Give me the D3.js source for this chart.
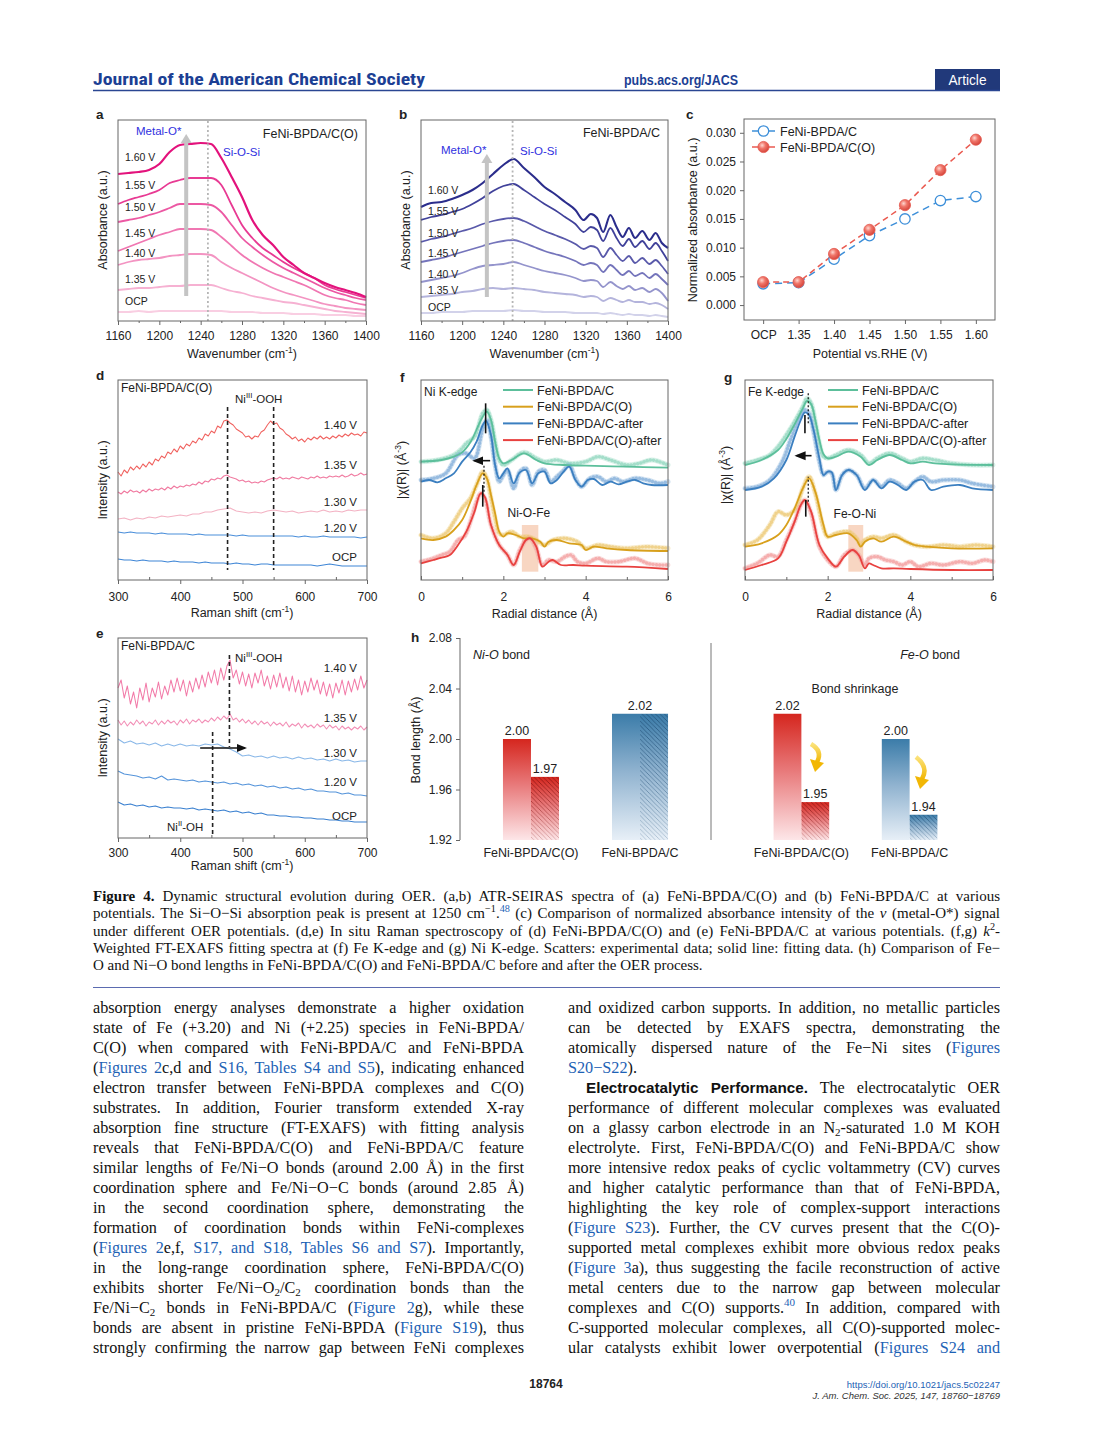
<!DOCTYPE html>
<html><head><meta charset="utf-8">
<script src="https://cdn.jsdelivr.net/npm/d3@7"></script>
<style>body{margin:0;background:#fff}svg{display:block}</style>
</head><body>
<script>
// ================= DATA =================
// (a,b) ATR-SEIRAS spectra, absorbance a.u. (stacked)
const IR_TICKS = [1160,1200,1240,1280,1320,1360,1400];
const A_X = [1160,1170,1180,1190,1200,1210,1220,1230,1240,1250,1260,1270,1280,1290,1300,1310,1320,1330,1340,1350,1360,1370,1380,1390,1400];
const A_160 = [147,148,149,151,157,169,176,177,178,177,163,144,124,101,86,76,64,56,48,43,38,34,31,28,24];
const A_155 = [117,121,124,127,131,138,141,143,143,143,136,116,96,83,73,66,59,53,48,43,36,32,29,26,23];
const A_150 = [99,101,103,106,109,113,117,117,117,116,109,96,83,74,66,59,53,48,43,38,33,29,26,23,21];
const A_145 = [70,74,78,82,86,89,92,92,92,91,84,75,66,59,53,48,44,40,36,31,26,23,21,18,16];
const A_140 = [56,59,61,62,63,65,66,67,67,66,59,53,48,43,38,33,29,26,23,20,17,15,13,12,11];
const A_135 = [31,32,33,33,34,35,35,36,36,36,33,30,28,25,23,21,19,18,16,14,12,10,9,8,7];
const A_OCP = [9,9,10,9,10,10,10,10,10,10,10,9,9,9,8,8,8,7,7,7,6,6,6,5,5];
const B_X = [1160,1170,1180,1190,1200,1210,1220,1230,1240,1250,1260,1270,1280,1290,1300,1310,1318,1325,1331,1337,1344,1350,1356,1362,1368,1375,1382,1388,1394,1400];
const B_160 = [114,118,119,122,126,131,138,147,156,162,153,144,134,127,119,111,101,107,103,89,106,94,84,93,83,90,81,88,78,73];
const B_155 = [101,104,106,109,112,117,123,130,135,137,131,124,117,111,104,97,89,94,91,80,93,83,75,82,74,80,72,78,70,60];
const B_150 = [79,82,84,87,90,93,97,100,102,103,100,95,90,86,82,77,72,75,73,64,73,66,60,65,58,63,57,61,55,47];
const B_145 = [59,61,63,66,69,72,75,78,80,81,78,74,70,67,64,60,56,58,56,49,56,51,46,50,45,48,43,47,42,36];
const B_140 = [39,41,43,45,48,52,55,56,57,59,56,53,50,48,46,43,40,41,40,34,39,35,32,35,31,33,29,32,28,20];
const B_135 = [24,25,26,27,29,30,32,33,32,33,32,31,29,28,27,26,24,25,24,20,23,21,19,21,19,19,17,18,16,12];
const B_OCP = [8,8,9,9,9,10,10,10,10,11,10,10,9,9,9,8,8,8,8,7,8,7,6,7,6,6,5,6,5,4];
const POT_LABELS = ["1.60 V","1.55 V","1.50 V","1.45 V","1.40 V","1.35 V","OCP"];

// (c) normalized absorbance
const C_CATS = ["OCP","1.35","1.40","1.45","1.50","1.55","1.60"];
const C_BLUE = [0.0037,0.0039,0.0080,0.0121,0.0150,0.0182,0.0189];
const C_RED  = [0.0040,0.0040,0.0089,0.0131,0.0174,0.0235,0.0288];
const C_YTICKS = [0,0.005,0.010,0.015,0.020,0.025,0.030];

// (d,e) Raman, intensity a.u.
const RAMAN_TICKS = [300,400,500,600,700];
const R_X5 = [300,305,310,315,320,325,330,335,340,345,350,355,360,365,370,375,380,385,390,395,400,405,410,415,420,425,430,435,440,445,450,455,460,465,470,475,480,485,490,495,500,505,510,515,520,525,530,535,540,545,550,555,560,565,570,575,580,585,590,595,600,605,610,615,620,625,630,635,640,645,650,655,660,665,670,675,680,685,690,695,700];
const R_X10 = [300,310,320,330,340,350,360,370,380,390,400,410,420,430,440,450,460,470,480,490,500,510,520,530,540,550,560,570,580,590,600,610,620,630,640,650,660,670,680,690,700];
const D_140 = [108,104,110,107,113,110,114,111,116,113,118,115,121,119,124,122,128,126,131,128,134,131,136,134,139,137,142,140,146,144,149,147,154,152,159,160,157,155,151,149,147,143,144,141,144,143,148,150,155,159,156,157,152,150,146,144,141,143,139,141,138,142,140,143,141,144,141,143,141,144,142,145,143,146,144,147,145,146,144,148,147];
const D_135 = [88,86,89,87,90,88,89,87,90,88,91,89,91,90,92,90,93,91,94,92,94,93,95,94,96,95,98,96,99,98,101,100,102,101,104,105,103,102,101,99,100,98,99,97,98,97,99,98,100,101,102,101,103,101,102,101,103,102,101,103,102,101,103,102,104,102,103,102,104,103,104,103,105,103,104,106,104,105,107,105,106];
const D_130 = [61,62,60,62,61,63,62,64,63,64,65,64,66,66,68,68,70,71,72,69,68,67,68,67,69,70,69,68,69,67,68,69,68,70,68,69,68,70,69,70,70];
const D_120 = [48,47,48,47,47,47,46,47,46,46,46,46,45,46,45,45,45,45,45,44,45,44,44,44,44,44,44,44,44,43,44,43,43,44,43,43,43,43,43,42,43];
const D_OCP = [21,20,20,19,20,19,19,19,18,19,18,18,18,17,18,17,17,17,16,17,16,16,15,16,16,15,15,15,15,15,15,15,14,15,16,15,14,14,14,14,14];
const E_140 = [150,158,140,152,134,146,130,150,138,155,136,150,141,156,139,152,143,158,146,160,147,158,142,157,146,160,149,163,151,166,155,168,153,170,158,172,178,160,168,154,166,152,164,150,165,155,168,152,162,149,163,151,165,150,161,147,162,146,158,143,157,146,160,148,158,144,156,142,154,140,155,145,158,143,157,146,159,148,162,150,158];
const E_135 = [118,113,117,112,116,113,118,114,117,112,116,114,118,113,117,114,118,115,117,113,118,115,119,114,118,116,119,115,118,116,120,117,121,118,122,119,124,118,120,116,119,115,118,114,117,113,117,114,116,112,116,113,115,112,116,111,114,112,115,110,114,111,113,110,114,111,113,109,113,110,112,108,112,109,111,108,111,109,112,108,111];
const E_130 = [99,95,97,94,95,93,95,92,94,92,94,92,93,92,94,93,94,91,89,86,82,83,81,82,80,82,80,81,79,81,79,80,78,79,77,79,77,78,76,77,77];
const E_120 = [67,64,63,62,60,61,59,62,58,59,58,57,58,56,57,56,55,56,54,55,53,54,52,53,51,52,50,51,49,50,48,49,47,47,46,46,44,45,43,43,42];
const E_OCP = [36,33,34,32,33,31,32,30,31,30,30,29,30,28,29,28,27,28,26,27,25,26,24,25,23,23,22,22,21,21,20,20,19,19,18,18,17,17,16,16,16];
const RAMAN_LABELS = ["1.40 V","1.35 V","1.30 V","1.20 V","OCP"];

// (f,g) FT-EXAFS |chi(R)| a.u. (stacked), [R, value]
const EX_TICKS = [0,2,4,6];
const EX_NAMES = ["FeNi-BPDA/C","FeNi-BPDA/C(O)","FeNi-BPDA/C-after","FeNi-BPDA/C(O)-after"];
const F_TEAL_FIT = [[0,355],[0.5,360],[0.8,370],[1.0,383],[1.2,413],[1.4,465],[1.5,490],[1.6,505],[1.7,480],[1.8,415],[1.9,365],[2.0,350],[2.2,360],[2.5,380],[2.8,360],[3.0,350],[3.5,345],[4.0,343],[5.0,340],[6.0,337]];
const F_TEAL_EXP = [[0,355],[0.4,360],[0.8,375],[1.0,395],[1.1,410],[1.3,430],[1.5,500],[1.6,510],[1.7,480],[1.8,415],[1.9,360],[2.0,345],[2.2,360],[2.5,383],[2.8,365],[3.0,355],[3.3,360],[3.6,350],[4.0,355],[4.3,370],[4.6,360],[5.0,345],[5.3,350],[5.6,360],[6.0,345]];
const F_BLUE_FIT = [[0,295],[0.2,300],[0.4,293],[0.6,305],[0.8,320],[1.0,355],[1.2,383],[1.35,415],[1.5,465],[1.58,477],[1.7,435],[1.8,345],[1.9,305],[2.0,320],[2.1,335],[2.25,290],[2.4,323],[2.55,330],[2.7,290],[2.85,320],[3.0,325],[3.15,290],[3.3,300],[3.45,323],[3.6,340],[3.75,300],[3.9,280],[4.05,300],[4.2,303],[4.4,285],[4.6,295],[4.8,287],[5.0,295],[5.2,300],[5.4,290],[5.6,285],[6.0,285]];
const F_BLUE_EXP = [[0,300],[0.3,305],[0.6,320],[0.9,375],[1.1,380],[1.3,365],[1.5,455],[1.6,480],[1.7,430],[1.8,345],[1.9,295],[2.0,315],[2.1,330],[2.25,275],[2.4,325],[2.55,335],[2.7,285],[2.85,325],[3.0,330],[3.15,295],[3.3,310],[3.45,327],[3.6,345],[3.75,305],[3.9,280],[4.1,305],[4.3,310],[4.5,295],[4.7,305],[4.9,295],[5.2,305],[5.5,300],[5.8,290],[6.0,295]];
const F_GOLD_FIT = [[0,125],[0.3,120],[0.6,130],[0.8,150],[1.0,180],[1.2,235],[1.35,285],[1.5,320],[1.6,305],[1.7,255],[1.8,200],[1.9,145],[2.0,130],[2.1,140],[2.3,135],[2.5,125],[2.7,125],[2.9,115],[3.0,100],[3.1,115],[3.3,120],[3.6,110],[3.9,105],[4.0,90],[4.2,100],[4.5,95],[5.0,90],[6.0,87]];
const F_GOLD_EXP = [[0,135],[0.3,125],[0.6,140],[0.8,175],[1.0,215],[1.2,245],[1.35,285],[1.5,325],[1.6,305],[1.7,245],[1.8,185],[1.9,140],[2.0,135],[2.2,145],[2.4,130],[2.6,130],[2.8,120],[3.0,105],[3.2,120],[3.5,125],[3.8,115],[4.0,95],[4.3,105],[4.6,100],[5.0,95],[5.5,100],[6.0,95]];
const F_RED_FIT = [[0,50],[0.3,60],[0.5,67],[0.7,75],[0.9,105],[1.1,145],[1.3,205],[1.45,260],[1.55,250],[1.7,165],[1.9,105],[2.1,75],[2.25,45],[2.4,85],[2.55,120],[2.65,125],[2.8,100],[2.95,40],[3.1,55],[3.2,60],[3.4,45],[3.7,45],[4.0,43],[5.0,40],[6.0,33]];
const F_RED_EXP = [[0,55],[0.3,65],[0.5,75],[0.7,85],[0.9,120],[1.05,130],[1.2,175],[1.35,235],[1.45,260],[1.55,245],[1.7,165],[1.9,105],[2.1,75],[2.25,45],[2.4,90],[2.55,120],[2.65,125],[2.8,95],[2.95,45],[3.1,60],[3.3,55],[3.5,70],[3.65,75],[3.8,55],[4.0,50],[4.3,65],[4.5,55],[4.8,55],[5.2,65],[5.5,50],[5.8,45],[6.0,45]];
const G_TEAL_FIT = [[0,345],[0.4,360],[0.8,390],[1.0,423],[1.2,467],[1.4,515],[1.5,537],[1.6,527],[1.7,480],[1.8,420],[1.9,377],[2.0,365],[2.2,370],[2.5,385],[2.8,370],[3.0,345],[3.2,360],[3.5,375],[3.8,360],[4.0,350],[4.3,355],[4.6,350],[5.0,347],[6.0,345]];
const G_TEAL_EXP = [[0,350],[0.3,360],[0.6,375],[0.8,400],[1.0,435],[1.2,475],[1.4,520],[1.5,545],[1.6,530],[1.7,475],[1.8,410],[1.9,370],[2.0,365],[2.2,375],[2.5,390],[2.8,375],[3.0,350],[3.2,365],[3.5,380],[3.8,365],[4.0,355],[4.3,365],[4.6,360],[5.0,350],[5.5,345],[6.0,345]];
const G_BLUE_FIT = [[0,270],[0.4,280],[0.7,305],[1.0,360],[1.2,430],[1.35,480],[1.45,503],[1.55,495],[1.65,455],[1.8,365],[1.9,315],[2.0,325],[2.1,323],[2.2,270],[2.35,315],[2.5,330],[2.7,315],[2.9,270],[3.1,300],[3.3,275],[3.5,295],[3.7,285],[3.9,270],[4.1,295],[4.3,300],[4.5,270],[4.8,280],[5.2,285],[5.5,275],[6.0,270]];
const G_BLUE_EXP = [[0,275],[0.3,280],[0.6,300],[0.9,355],[1.1,420],[1.3,480],[1.45,510],[1.55,500],[1.65,450],[1.8,355],[1.9,315],[2.0,325],[2.1,320],[2.2,270],[2.35,315],[2.5,330],[2.7,315],[2.9,275],[3.1,300],[3.3,280],[3.5,300],[3.7,290],[3.9,275],[4.1,295],[4.3,310],[4.5,295],[4.8,300],[5.2,300],[5.5,290],[6.0,280]];
const G_GOLD_FIT = [[0,100],[0.4,110],[0.8,135],[1.0,165],[1.2,215],[1.4,275],[1.55,305],[1.7,265],[1.9,165],[2.0,130],[2.2,135],[2.5,140],[2.7,120],[2.8,100],[2.9,115],[3.1,125],[3.3,115],[3.6,130],[3.9,115],[4.1,105],[4.4,100],[5.0,95],[6.0,95]];
const G_GOLD_EXP = [[0,105],[0.3,120],[0.6,165],[0.8,205],[1.0,195],[1.2,210],[1.4,275],[1.55,310],[1.7,260],[1.9,155],[2.0,130],[2.2,140],[2.5,145],[2.7,125],[2.8,105],[2.9,120],[3.1,130],[3.3,125],[3.6,135],[3.9,115],[4.1,105],[4.4,100],[4.8,105],[5.2,100],[5.6,105],[6.0,100]];
const G_RED_FIT = [[0,30],[0.4,45],[0.8,65],[1.0,115],[1.2,175],[1.35,225],[1.45,240],[1.6,205],[1.8,105],[2.0,65],[2.2,40],[2.4,70],[2.6,90],[2.75,75],[2.9,35],[3.0,50],[3.1,45],[3.3,35],[3.6,35],[4.0,33],[5.0,30],[6.0,30]];
const G_RED_EXP = [[0,35],[0.3,50],[0.6,75],[0.8,70],[1.0,120],[1.2,175],[1.35,225],[1.45,240],[1.6,200],[1.8,100],[2.0,60],[2.2,40],[2.4,75],[2.6,90],[2.75,75],[2.9,45],[3.0,65],[3.2,70],[3.4,60],[3.6,55],[3.8,45],[4.0,55],[4.2,40],[4.5,50],[4.8,45],[5.2,55],[5.5,50],[5.8,60],[6.0,55]];

// (h) bond lengths
const H_SAMPLES = ["FeNi-BPDA/C(O)","FeNi-BPDA/C"];
const H_NIO_BEFORE = [2.00,2.02];
const H_NIO_AFTER  = [1.97,2.02];
const H_FEO_BEFORE = [2.02,2.00];
const H_FEO_AFTER  = [1.95,1.94];
const H_YTICKS = [1.92,1.96,2.00,2.04,2.08];

// ================= RENDER =================
const W=1094,H=1442;
const SANS='"Liberation Sans", Arial, Helvetica, sans-serif';
const SERIF='"Liberation Serif", "Times New Roman", serif';
const TXT='#222', LINK='#1d62b5', FRAME='#666';
const svg=d3.select('body').append('svg').attr('width',W).attr('height',H).attr('font-family',SANS);
svg.append('rect').attr('width',W).attr('height',H).attr('fill','#fff');
const defs=svg.append('defs');

function addRich(t,str,fs){
  const re=/(\*\*[^*]+\*\*|\[[^\]]+\]|\^\{[^}]*\}|_\{[^}]*\}|%\{[^}]*\}|~\{[^}]*\}|@\{[^}]*\})/;
  str.split(re).forEach(p=>{
    if(!p) return;
    const ts=t.append('tspan');
    if(p.startsWith('**')) ts.text(p.slice(2,-2)).attr('font-weight','bold');
    else if(p.startsWith('[')) ts.text(p.slice(1,-1)).attr('fill',LINK);
    else if(p.startsWith('^{')) ts.text(p.slice(2,-1)).attr('font-size',fs*0.68).attr('baseline-shift',(fs*0.4)+'px');
    else if(p.startsWith('_{')) ts.text(p.slice(2,-1)).attr('font-size',fs*0.68).attr('baseline-shift',(-fs*0.2)+'px');
    else if(p.startsWith('%{')) ts.text(p.slice(2,-1)).attr('font-style','italic');
    else if(p.startsWith('~{')) ts.text(p.slice(2,-1)).attr('font-size',fs*0.68).attr('baseline-shift',(fs*0.42)+'px').attr('fill',LINK);
    else if(p.startsWith('@{')) ts.text(p.slice(2,-1)).attr('font-weight','bold').attr('font-family',SANS).attr('font-size',fs*0.94);
    else ts.text(p);
  });
}
function txt(g,x,y,s,o={}){
  const fs=o.fs||12;
  const t=g.append('text').attr('x',x).attr('y',y).attr('font-size',fs).attr('fill',o.c||TXT)
    .attr('text-anchor',o.a||'start').attr('font-family',o.ff||SANS);
  if(o.w) t.attr('font-weight',o.w);
  if(o.st) t.attr('font-style',o.st);
  if(o.rot) t.attr('transform',`rotate(-90,${x},${y})`);
  addRich(t,s,fs);
  return t;
}
function frame(g,x0,y0,x1,y1){
  g.append('rect').attr('x',x0).attr('y',y0).attr('width',x1-x0).attr('height',y1-y0)
   .attr('fill','none').attr('stroke',FRAME).attr('stroke-width',1);
}
function styleAxis(axg,fs){
  axg.attr('font-family',SANS).attr('font-size',fs||12);
  axg.select('.domain').remove();
  axg.selectAll('line').attr('stroke',FRAME);
  axg.selectAll('text').attr('fill',TXT);
}
defs.append('marker').attr('id','arrK').attr('viewBox','0 0 10 10').attr('refX',8).attr('refY',5)
  .attr('markerWidth',7).attr('markerHeight',7).attr('orient','auto-start-reverse')
  .append('path').attr('d','M0,1 L10,5 L0,9 Z').attr('fill','#111');

// ---------- Header ----------
txt(svg,93,85,'Journal of the American Chemical Society',{fs:17,c:'#1c3f94',w:'bold',ff:'"Liberation Sans Narrow","Roboto Condensed","Liberation Sans",sans-serif'})
  .attr('textLength',332).attr('lengthAdjust','spacingAndGlyphs');
txt(svg,624,85,'pubs.acs.org/JACS',{fs:14,c:'#1c3f94',w:'bold',ff:'"Liberation Sans Narrow","Liberation Sans",sans-serif'})
  .attr('textLength',114).attr('lengthAdjust','spacingAndGlyphs');
svg.append('rect').attr('x',935).attr('y',69).attr('width',65).attr('height',21).attr('fill','#21397a');
txt(svg,967.5,84.5,'Article',{fs:14,c:'#fff',a:'middle',ff:'"Liberation Sans Narrow","Liberation Sans",sans-serif'})
  .attr('textLength',38).attr('lengthAdjust','spacingAndGlyphs');
svg.append('line').attr('x1',93).attr('x2',1000).attr('y1',90.5).attr('y2',90.5).attr('stroke','#2a4692').attr('stroke-width',1.5);

// ---------- (a),(b) IR panels ----------
function irPanel(cfg){
  const g=svg.append('g');
  const x=d3.scaleLinear().domain([1160,1400]).range([cfg.x0,cfg.x1]);
  const y=d3.scaleLinear().domain([0,201]).range([321,120]);
  const line=d3.line().x((d,i)=>x(cfg.xs[i])).y(d=>y(d)).curve(d3.curveMonotoneX);
  cfg.series.slice().reverse().forEach(s=>{
    g.append('path').attr('d',line(s.v)).attr('fill','none').attr('stroke',s.c).attr('stroke-width',s.w).attr('stroke-linejoin','round');
  });
  g.append('line').attr('x1',x(cfg.dot)).attr('x2',x(cfg.dot)).attr('y1',y(200)).attr('y2',y(0))
    .attr('stroke','#b5b5b5').attr('stroke-width',1.8).attr('stroke-dasharray','2,2.5');
  const ax=x(cfg.arrow[0]);
  g.append('line').attr('x1',ax).attr('x2',ax).attr('y1',y(cfg.arrow[1])).attr('y2',y(cfg.arrow[2])+8)
    .attr('stroke','#c4c4c4').attr('stroke-width',4);
  g.append('path').attr('d',`M${ax-5.5},${y(cfg.arrow[2])+9} L${ax},${y(cfg.arrow[2])} L${ax+5.5},${y(cfg.arrow[2])+9} Z`).attr('fill','#c4c4c4');
  frame(g,cfg.x0,120,cfg.x1,321);
  const axg=g.append('g').attr('transform','translate(0,321)')
    .call(d3.axisBottom(x).tickValues(IR_TICKS).tickSize(4).tickPadding(6).tickFormat(d3.format('d')));
  styleAxis(axg,12);
  g.append('g').attr('transform','translate(0,321)')
    .call(d3.axisBottom(x).tickValues([1180,1220,1260,1300,1340,1380]).tickSize(2).tickFormat(''))
    .call(a=>{a.select('.domain').remove();a.selectAll('line').attr('stroke',FRAME);});
  cfg.series.forEach((s,i)=>txt(g,cfg.x0+7,cfg.labY[i],POT_LABELS[i],{fs:10.5}));
  txt(g,(cfg.x0+cfg.x1)/2,358,'Wavenumber (cm^{-1})',{fs:12.5,a:'middle'});
  txt(g,cfg.x0-11,220,'Absorbance (a.u.)',{fs:12.5,a:'middle',rot:true});
  txt(g,cfg.x0-22,119,cfg.letter,{fs:13.5,w:'bold'});
  txt(g,cfg.mx,cfg.my,'Metal-O*',{fs:11.5,c:'#2f2fe0'});
  txt(g,cfg.sx,cfg.sy,'Si-O-Si',{fs:11.5,c:'#2f2fe0'});
  txt(g,cfg.x1-8,cfg.ty,cfg.title,{fs:12.5,a:'end'});
}
irPanel({x0:118,x1:366,xs:A_X,dot:1247,arrow:[1226,25,187],letter:'a',title:'FeNi-BPDA/C(O)',ty:138,
  mx:136,my:135,sx:223,sy:156,labY:[161,189,211,237,257,283,305],
  series:[{v:A_160,c:'#e3127c',w:2.2},{v:A_155,c:'#e83a93',w:1.8},{v:A_150,c:'#ec58a3',w:1.8},{v:A_145,c:'#f077b2',w:1.8},{v:A_140,c:'#f394c2',w:1.8},{v:A_135,c:'#f6b1d2',w:1.8},{v:A_OCP,c:'#f9cee2',w:1.8}]});
irPanel({x0:421,x1:668,xs:B_X,dot:1249,arrow:[1224,24,167],letter:'b',title:'FeNi-BPDA/C',ty:137,
  mx:441,my:154,sx:520,sy:155,labY:[194,215,237,257,278,294,311],
  series:[{v:B_160,c:'#2b2d8c',w:2.1},{v:B_155,c:'#40419a',w:1.8},{v:B_150,c:'#5959aa',w:1.8},{v:B_145,c:'#7474bb',w:1.8},{v:B_140,c:'#9494cc',w:1.8},{v:B_135,c:'#b4b4dc',w:1.8},{v:B_OCP,c:'#d2d2ea',w:1.8}]});

// ---------- (c) ----------
(function(){
  const g=svg.append('g');
  const x0=744,x1=995,y0=119,y1=320;
  const x=d3.scalePoint().domain(C_CATS).range([x0,x1]).padding(0.54);
  const y=d3.scaleLinear().domain([-0.0026,0.0324]).range([y1,y0]);
  const rg=defs.append('radialGradient').attr('id','redBall').attr('cx','38%').attr('cy','35%').attr('r','65%');
  rg.append('stop').attr('offset','0%').attr('stop-color','#ffd6cf');
  rg.append('stop').attr('offset','45%').attr('stop-color','#f0766a');
  rg.append('stop').attr('offset','100%').attr('stop-color','#d6463c');
  const line=d3.line().x((d,i)=>x(C_CATS[i])).y(d=>y(d));
  g.append('path').attr('d',line(C_BLUE)).attr('fill','none').attr('stroke','#3d8fd9').attr('stroke-width',1.5).attr('stroke-dasharray','7,5');
  g.append('path').attr('d',line(C_RED)).attr('fill','none').attr('stroke','#ea5a50').attr('stroke-width',1.5).attr('stroke-dasharray','6,4');
  g.selectAll('.cb').data(C_BLUE).join('circle').attr('cx',(d,i)=>x(C_CATS[i])).attr('cy',d=>y(d)).attr('r',5.2)
    .attr('fill','#fff').attr('stroke','#3d8fd9').attr('stroke-width',1.3);
  g.selectAll('.cr').data(C_RED).join('circle').attr('cx',(d,i)=>x(C_CATS[i])).attr('cy',d=>y(d)).attr('r',5.6)
    .attr('fill','url(#redBall)').attr('stroke','#e55b50').attr('stroke-width',0.8);
  frame(g,x0,y0,x1,y1);
  const ya=g.append('g').attr('transform',`translate(${x0},0)`).call(d3.axisLeft(y).tickValues(C_YTICKS).tickSize(4).tickPadding(4).tickFormat(d3.format('.3f')));
  styleAxis(ya,12);
  const xa=g.append('g').attr('transform',`translate(0,${y1})`).call(d3.axisBottom(x).tickSize(4).tickPadding(6));
  styleAxis(xa,12);
  [[131,'FeNi-BPDA/C',0],[147,'FeNi-BPDA/C(O)',1]].forEach(([ly,lab,k])=>{
    g.append('line').attr('x1',752).attr('x2',775).attr('y1',ly).attr('y2',ly).attr('stroke',k?'#ea5a50':'#3d8fd9').attr('stroke-width',1.5);
    g.append('circle').attr('cx',763.5).attr('cy',ly).attr('r',k?5.6:5.2).attr('fill',k?'url(#redBall)':'#fff').attr('stroke',k?'#e55b50':'#3d8fd9').attr('stroke-width',k?0.8:1.3);
    txt(g,780,ly+4.5,lab,{fs:12.5});
  });
  txt(g,870,358,'Potential vs.RHE (V)',{fs:12.5,a:'middle'});
  txt(g,697,220,'Normalized absorbance (a.u.)',{fs:12.5,a:'middle',rot:true});
  txt(g,686,119,'c',{fs:13.5,w:'bold'});
})();

// ---------- (d),(e) Raman ----------
function ramanPanel(cfg){
  const g=svg.append('g');
  const x=d3.scaleLinear().domain([300,700]).range([118,367]);
  const y=d3.scaleLinear().domain([0,200]).range([cfg.yb,cfg.yb-200]);
  cfg.series.forEach(s=>{
    const line=d3.line().x((d,i)=>x(s.xs[i])).y(d=>y(d));
    g.append('path').attr('d',line(s.v)).attr('fill','none').attr('stroke',s.c).attr('stroke-width',1.05).attr('stroke-linejoin','round');
  });
  cfg.dashes.forEach(d=>g.append('line').attr('x1',x(d[0])).attr('x2',x(d[0])).attr('y1',y(d[1])).attr('y2',y(d[2]))
    .attr('stroke','#222').attr('stroke-width',1.6).attr('stroke-dasharray','4,3'));
  frame(g,118,cfg.yb-200,367,cfg.yb);
  const axg=g.append('g').attr('transform',`translate(0,${cfg.yb})`).call(d3.axisBottom(x).tickValues(RAMAN_TICKS).tickSize(4).tickPadding(cfg.pad));
  styleAxis(axg,12);
  g.append('g').attr('transform',`translate(0,${cfg.yb})`).call(d3.axisBottom(x).tickValues([350,450,550,650]).tickSize(-3).tickFormat(''))
    .call(a=>{a.select('.domain').remove();a.selectAll('line').attr('stroke',FRAME);});
  RAMAN_LABELS.forEach((l,i)=>txt(g,357,cfg.labY[i],l,{fs:11.5,a:'end'}));
  txt(g,121,cfg.yb-188,cfg.title,{fs:12});
  txt(g,235,cfg.nly,'Ni^{III}-OOH',{fs:11.5});
  txt(g,242,cfg.yb+cfg.tt,'Raman shift (cm^{-1})',{fs:12.5,a:'middle'});
  txt(g,107,cfg.yb-100,'Intensity (a.u.)',{fs:12.5,a:'middle',rot:true});
  txt(g,96,cfg.yb-200,cfg.letter,{fs:13.5,w:'bold'});
  return {g,x,y};
}
ramanPanel({yb:580,pad:8,tt:37,letter:'d',title:'FeNi-BPDA/C(O)',nly:403,labY:[429,469,506,532,561],
  dashes:[[476,173,10],[550,173,10]],
  series:[{xs:R_X10,v:D_OCP,c:'#3f86d6'},{xs:R_X10,v:D_120,c:'#4b8fda'},{xs:R_X10,v:D_130,c:'#f3b2c3'},{xs:R_X5,v:D_135,c:'#f07aa0'},{xs:R_X5,v:D_140,c:'#f0625f'}]});
const pe=ramanPanel({yb:838,pad:6,tt:32,letter:'e',title:'FeNi-BPDA/C',nly:662,labY:[672,722,757,786,820],
  dashes:[[479,183,91],[452,106,3]],
  series:[{xs:R_X10,v:E_OCP,c:'#3a80d0'},{xs:R_X10,v:E_120,c:'#5594da'},{xs:R_X10,v:E_130,c:'#8ab8e8'},{xs:R_X5,v:E_135,c:'#f28fb6'},{xs:R_X5,v:E_140,c:'#f27aa8'}]});
pe.g.append('line').attr('x1',pe.x(432)).attr('x2',pe.x(504)).attr('y1',pe.y(90)).attr('y2',pe.y(90)).attr('stroke','#111').attr('stroke-width',1.5).attr('marker-end','url(#arrK)');
txt(pe.g,167,831,'Ni^{II}-OH',{fs:11.5});

// ---------- (f),(g) EXAFS ----------
function exafsPanel(cfg){
  const g=svg.append('g');
  const x=d3.scaleLinear().domain([0,6]).range([cfg.x0,cfg.x1]);
  const y=d3.scaleLinear().domain([0,600]).range([580,380]);
  g.append('rect').attr('x',x(cfg.box[0])).attr('width',x(cfg.box[1])-x(cfg.box[0])).attr('y',y(165)).attr('height',y(25)-y(165))
    .attr('fill','#f5c5a8').attr('opacity',0.7);
  const line=d3.line().x(d=>x(d[0])).y(d=>y(d[1])).curve(d3.curveCatmullRom.alpha(0.5));
  cfg.series.forEach(s=>{
    g.append('path').attr('d',line(s.exp)).attr('fill','none').attr('stroke',s.sc).attr('stroke-width',5).attr('stroke-opacity',0.35).attr('stroke-linecap','round');
    g.append('path').attr('d',line(s.exp)).attr('fill','none').attr('stroke',s.sc).attr('stroke-width',3.4).attr('stroke-opacity',0.7)
      .attr('stroke-dasharray','0.1,3.2').attr('stroke-linecap','round');
  });
  cfg.series.forEach(s=>g.append('path').attr('d',line(s.fit)).attr('fill','none').attr('stroke',s.c).attr('stroke-width',1.8));
  cfg.marks.forEach(m=>{
    g.append('line').attr('x1',x(m[0])).attr('x2',x(m[0])).attr('y1',y(m[1])).attr('y2',y(m[2]))
      .attr('stroke','#111').attr('stroke-width',m[3]?1.2:1.6).attr('stroke-dasharray',m[3]?'2,2':null);
  });
  g.append('line').attr('x1',x(cfg.arr[0])).attr('x2',x(cfg.arr[1])).attr('y1',y(cfg.arr[2])).attr('y2',y(cfg.arr[2]))
    .attr('stroke','#111').attr('stroke-width',1.6).attr('marker-end','url(#arrK)');
  frame(g,cfg.x0,380,cfg.x1,580);
  const axg=g.append('g').attr('transform','translate(0,580)').call(d3.axisBottom(x).tickValues(EX_TICKS).tickSize(-4).tickPadding(12).tickFormat(d3.format('d')));
  styleAxis(axg,12);
  g.append('g').attr('transform','translate(0,580)').call(d3.axisBottom(x).tickValues([1,3,5]).tickSize(-3).tickFormat(''))
    .call(a=>{a.select('.domain').remove();a.selectAll('line').attr('stroke',FRAME);});
  cfg.series.forEach((s,i)=>{
    const ly=390+i*16.7;
    g.append('line').attr('x1',cfg.lx).attr('x2',cfg.lx+30).attr('y1',ly).attr('y2',ly).attr('stroke',s.c).attr('stroke-width',2);
    txt(g,cfg.lx+34,ly+4.5,EX_NAMES[i],{fs:12.5});
  });
  txt(g,cfg.x0+3,396,cfg.edge,{fs:12});
  txt(g,x(cfg.lab[0]),y(cfg.lab[1]),cfg.labText,{fs:12,a:'middle'});
  txt(g,(cfg.x0+cfg.x1)/2,618,'Radial distance (Å)',{fs:12.5,a:'middle'});
  txt(g,cfg.x0-15,cfg.ytc,'|χ(R)| (Å^{-3})',{fs:12.5,a:'middle',rot:true});
  txt(g,cfg.x0-21,382,cfg.letter,{fs:13.5,w:'bold'});
}
const EXCOL=[{c:'#5cbf9b',sc:'#8fd6bd'},{c:'#d8a01c',sc:'#ecc870'},{c:'#3b7fc0',sc:'#7fadd8'},{c:'#e8413f',sc:'#f29a9a'}];
exafsPanel({x0:421,x1:668,letter:'f',edge:'Ni K-edge',box:[2.45,2.85],lab:[2.62,190],labText:'Ni-O-Fe',lx:503,ytc:470,
  marks:[[1.57,440,530,0],[1.53,265,345,1],[1.50,220,285,0]],arr:[1.68,1.3,358],
  series:[{fit:F_TEAL_FIT,exp:F_TEAL_EXP,...EXCOL[0]},{fit:F_GOLD_FIT,exp:F_GOLD_EXP,...EXCOL[1]},{fit:F_BLUE_FIT,exp:F_BLUE_EXP,...EXCOL[2]},{fit:F_RED_FIT,exp:F_RED_EXP,...EXCOL[3]}]});
exafsPanel({x0:745,x1:993,letter:'g',edge:'Fe K-edge',box:[2.5,2.86],lab:[2.66,185],labText:'Fe-O-Ni',lx:828,ytc:475,
  marks:[[1.45,440,495,0],[1.53,470,560,1],[1.53,235,310,1],[1.47,190,240,0]],arr:[1.61,1.25,373],
  series:[{fit:G_TEAL_FIT,exp:G_TEAL_EXP,...EXCOL[0]},{fit:G_GOLD_FIT,exp:G_GOLD_EXP,...EXCOL[1]},{fit:G_BLUE_FIT,exp:G_BLUE_EXP,...EXCOL[2]},{fit:G_RED_FIT,exp:G_RED_EXP,...EXCOL[3]}]});

// ---------- (h) bond lengths ----------
(function(){
  const g=svg.append('g');
  const y=d3.scaleLinear().domain([1.92,2.08]).range([840,638]);
  const xL=d3.scaleBand().domain(H_SAMPLES).range([460,711]).paddingInner(0.486).paddingOuter(0.394);
  const xR=d3.scaleBand().domain(H_SAMPLES).range([711,1000]).paddingInner(0.486).paddingOuter(0.578);
  function grad(id,top,mid,bot){
    const lg=defs.append('linearGradient').attr('id',id).attr('x1',0).attr('x2',0).attr('y1',0).attr('y2',1);
    lg.append('stop').attr('offset','0%').attr('stop-color',top);
    lg.append('stop').attr('offset','45%').attr('stop-color',mid);
    lg.append('stop').attr('offset','100%').attr('stop-color',bot);
  }
  grad('gRed','#d5261e','#e8797a','#fde6e8');
  grad('gBlue','#3b7ca9','#8fb2cf','#e7eff7');
  function hatch(id,col){
    const p=defs.append('pattern').attr('id',id).attr('patternUnits','userSpaceOnUse').attr('width',4.5).attr('height',4.5);
    p.append('path').attr('d','M-1,-1 L5.5,5.5 M-1,3.5 L1,5.5 M3.5,-1 L5.5,1').attr('stroke',col).attr('stroke-width',0.9);
  }
  hatch('hRed','#7d1010'); hatch('hBlue','#1d4a72');
  const fg=defs.append('linearGradient').attr('id','fadeG').attr('x1',0).attr('x2',0).attr('y1',0).attr('y2',1);
  fg.append('stop').attr('offset','0%').attr('stop-color','#fff');
  fg.append('stop').attr('offset','100%').attr('stop-color','#555');
  defs.append('mask').attr('id','fadeM').attr('maskContentUnits','objectBoundingBox')
    .append('rect').attr('width',1).attr('height',1).attr('fill','url(#fadeG)');
  const groups=[{sc:xL,before:H_NIO_BEFORE,after:H_NIO_AFTER},{sc:xR,before:H_FEO_BEFORE,after:H_FEO_AFTER}];
  groups.forEach(G=>{
    H_SAMPLES.forEach((s,i)=>{
      const bx=G.sc(s), bw=G.sc.bandwidth()/2;
      const gid=i===0?'url(#gRed)':'url(#gBlue)', hid=i===0?'url(#hRed)':'url(#hBlue)';
      const b=G.before[i], a=G.after[i];
      g.append('rect').attr('x',bx).attr('width',bw).attr('y',y(b)).attr('height',y(1.92)-y(b)).attr('fill',gid);
      g.append('rect').attr('x',bx+bw).attr('width',bw).attr('y',y(a)).attr('height',y(1.92)-y(a)).attr('fill',gid);
      g.append('rect').attr('x',bx+bw).attr('width',bw).attr('y',y(a)).attr('height',y(1.92)-y(a)).attr('fill',hid).attr('opacity',0.75).attr('mask','url(#fadeM)');
      if(a===b){
        txt(g,bx+bw,y(b)-4,b.toFixed(2),{fs:12.5,a:'middle'});
      } else {
        txt(g,bx+bw/2,y(b)-4,b.toFixed(2),{fs:12.5,a:'middle'});
        txt(g,bx+bw*1.5,y(a)-4,a.toFixed(2),{fs:12.5,a:'middle'});
      }
      txt(g,bx+bw,857,s,{fs:12.5,a:'middle'});
    });
  });
  const ya=g.append('g').attr('transform','translate(460,0)').call(d3.axisLeft(y).tickValues(H_YTICKS).tickSize(4).tickPadding(4).tickFormat(d3.format('.2f')));
  styleAxis(ya,12);
  g.append('line').attr('x1',460).attr('x2',460).attr('y1',638).attr('y2',840).attr('stroke',FRAME);
  g.append('line').attr('x1',711).attr('x2',711).attr('y1',643).attr('y2',840).attr('stroke','#777');
  txt(g,473,659,'%{Ni-O} bond',{fs:12.5});
  txt(g,960,659,'%{Fe-O} bond',{fs:12.5,a:'end'});
  txt(g,855,693,'Bond shrinkage',{fs:12.5,a:'middle'});
  txt(g,420,740,'Bond length (Å)',{fs:12.5,a:'middle',rot:true});
  txt(g,411,642,'h',{fs:13.5,w:'bold'});
  const yg=defs.append('linearGradient').attr('id','yel').attr('x1',0).attr('x2',0).attr('y1',0).attr('y2',1);
  yg.append('stop').attr('offset','0%').attr('stop-color','#fbe27a');
  yg.append('stop').attr('offset','100%').attr('stop-color','#f2b705');
  [[811,744,823,751,817,762],[916,757,929,767,922,779]].forEach(p=>{
    g.append('path').attr('d',`M${p[0]},${p[1]} Q${p[2]},${p[3]} ${p[4]},${p[5]}`).attr('fill','none').attr('stroke','url(#yel)').attr('stroke-width',4.5);
    g.append('path').attr('d',`M${p[4]-7},${p[5]-3} L${p[4]+7},${p[5]+1} L${p[4]-2},${p[5]+10} Z`).attr('fill','#f2b705');
  });
})();

// ---------- Caption & body text ----------
function richLine(x,y,width,str,o){
  const t=svg.append('text').attr('x',x).attr('y',y).attr('font-family',o.ff||SERIF).attr('font-size',o.fs).attr('fill','#111');
  addRich(t,str,o.fs);
  if(o.justify){
    const L=t.node().getComputedTextLength();
    const n=(t.text().match(/ /g)||[]).length;
    if(L>width){
      t.attr('textLength',width).attr('lengthAdjust','spacingAndGlyphs');
    } else if(n>0){
      const ws=(width-L)/n;
      t.attr('word-spacing',ws).style('word-spacing',ws+'px');
      const bw=t.node().getBBox().width;
      if(Math.abs(bw-width)>4){ t.attr('word-spacing',null).style('word-spacing',null).attr('textLength',width).attr('lengthAdjust','spacing'); }
    }
  }
  return t;
}
const CAPTION = [
 "**Figure 4.** Dynamic structural evolution during OER. (a,b) ATR-SEIRAS spectra of (a) FeNi-BPDA/C(O) and (b) FeNi-BPDA/C at various",
 "potentials. The Si−O−Si absorption peak is present at 1250 cm^{−1}.~{48} (c) Comparison of normalized absorbance intensity of the %{ν} (metal-O*) signal",
 "under different OER potentials. (d,e) In situ Raman spectroscopy of (d) FeNi-BPDA/C(O) and (e) FeNi-BPDA/C at various potentials. (f,g) %{k}^{2}-",
 "Weighted FT-EXAFS fitting spectra at (f) Fe K-edge and (g) Ni K-edge. Scatters: experimental data; solid line: fitting data. (h) Comparison of Fe−",
 "O and Ni−O bond lengths in FeNi-BPDA/C(O) and FeNi-BPDA/C before and after the OER process."];
CAPTION.forEach((l,i)=>richLine(93,901+i*17.25,907,l,{fs:15,justify:i<CAPTION.length-1}));
svg.append('line').attr('x1',93).attr('x2',1000).attr('y1',987.5).attr('y2',987.5).attr('stroke','#5b6bb0').attr('stroke-width',1);

const LEFT_LINES = [
"absorption energy analyses demonstrate a higher oxidation",
"state of Fe (+3.20) and Ni (+2.25) species in FeNi-BPDA/",
"C(O) when compared with FeNi-BPDA/C and FeNi-BPDA",
"([Figures 2]c,d and [S16, Tables S4 and S5]), indicating enhanced",
"electron transfer between FeNi-BPDA complexes and C(O)",
"substrates. In addition, Fourier transform extended X-ray",
"absorption fine structure (FT-EXAFS) with fitting analysis",
"reveals that FeNi-BPDA/C(O) and FeNi-BPDA/C feature",
"similar lengths of Fe/Ni−O bonds (around 2.00 Å) in the first",
"coordination sphere and Fe/Ni−O−C bonds (around 2.85 Å)",
"in the second coordination sphere, demonstrating the",
"formation of coordination bonds within FeNi-complexes",
"([Figures 2]e,f, [S17, and S18, Tables S6 and S7]). Importantly,",
"in the long-range coordination sphere, FeNi-BPDA/C(O)",
"exhibits shorter Fe/Ni−O_{2}/C_{2} coordination bonds than the",
"Fe/Ni−C_{2} bonds in FeNi-BPDA/C ([Figure 2]g), while these",
"bonds are absent in pristine FeNi-BPDA ([Figure S19]), thus",
"strongly confirming the narrow gap between FeNi complexes"];
const RIGHT_LINES = [
"and oxidized carbon supports. In addition, no metallic particles",
"can be detected by EXAFS spectra, demonstrating the",
"atomically dispersed nature of the Fe−Ni sites ([Figures]",
"[S20−S22]).",
"@{Electrocatalytic Performance.} The electrocatalytic OER",
"performance of different molecular complexes was evaluated",
"on a glassy carbon electrode in an N_{2}-saturated 1.0 M KOH",
"electrolyte. First, FeNi-BPDA/C(O) and FeNi-BPDA/C show",
"more intensive redox peaks of cyclic voltammetry (CV) curves",
"and higher catalytic performance than that of FeNi-BPDA,",
"highlighting the key role of complex-support interactions",
"([Figure S23]). Further, the CV curves present that the C(O)-",
"supported metal complexes exhibit more obvious redox peaks",
"([Figure 3]a), thus suggesting the facile reconstruction of active",
"metal centers due to the narrow gap between molecular",
"complexes and C(O) supports.~{40} In addition, compared with",
"C-supported molecular complexes, all C(O)-supported molec-",
"ular catalysts exhibit lower overpotential ([Figures S24 and]"];
LEFT_LINES.forEach((l,i)=>richLine(93,1013+i*20,431,l,{fs:16.2,justify:true}));
RIGHT_LINES.forEach((l,i)=>{
  const ind=(i===4)?18:0;
  richLine(568+ind,1013+i*20,432-ind,l,{fs:16.2,justify:i!==3});
});

// ---------- Footer ----------
txt(svg,546,1388,'18764',{fs:12,w:'bold',a:'middle'});
txt(svg,1000,1388,'https://doi.org/10.1021/jacs.5c02247',{fs:9.5,a:'end',c:LINK});
txt(svg,1000,1399,'J. Am. Chem. Soc. 2025, 147, 18760−18769',{fs:9.5,a:'end',st:'italic',c:'#333'});
</script>
</body></html>
